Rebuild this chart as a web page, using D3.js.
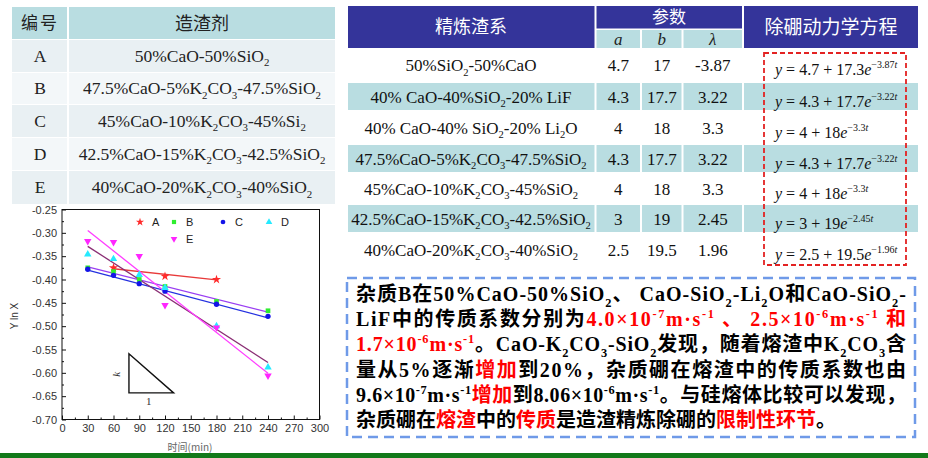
<!DOCTYPE html>
<html>
<head>
<meta charset="utf-8">
<script src="https://cdn.jsdelivr.net/npm/d3@7"></script>
<style>
  html, body { margin: 0; padding: 0; background: #fff; }
  svg { display: block; }
</style>
</head>
<body>
<svg id="slide" width="928" height="458"></svg>
<script>
// ---- left table: slag makers
const slagIds = ["A", "B", "C", "D", "E"];
const slagRecipes = [
  "50%CaO-50%SiO_2",
  "47.5%CaO-5%K_2CO_3-47.5%SiO_2",
  "45%CaO-10%K_2CO_3-45%Si_2",
  "42.5%CaO-15%K_2CO_3-42.5%SiO_2",
  "40%CaO-20%K_2CO_3-40%SiO_2"
];

// ---- chart: Y ln X vs time (min)
const times = [30, 60, 90, 120, 180, 240];
const timesA = [60, 120, 180];
const lnA = [-0.375, -0.393, -0.400];
const lnB = [-0.375, -0.383, -0.400, -0.415, -0.447, -0.467];
const lnC = [-0.378, -0.391, -0.409, -0.425, -0.453, -0.479];
const lnD = [-0.346, -0.356, -0.390, -0.418, -0.500, -0.588];
const lnE = [-0.318, -0.320, -0.350, -0.455, -0.503, -0.606];
// fitted lines, end points
const fitA = [[60, -0.377], [180, -0.401]];
const fitB = [[30, -0.373], [240, -0.470]];
const fitC = [[30, -0.380], [240, -0.482]];
const fitD = [[30, -0.329], [240, -0.578]];
const fitE = [[30, -0.295], [240, -0.601]];
const slopeTri = [[78, -0.559], [78, -0.643], [130, -0.643]];
const xTickVals = [0, 30, 60, 90, 120, 150, 180, 210, 240, 270, 300];
const xMinorVals = [15, 45, 75, 105, 135, 165, 195, 225, 255, 285];
const yTickVals = [-0.70, -0.65, -0.60, -0.55, -0.50, -0.45, -0.40, -0.35, -0.30, -0.25];
const yMinorVals = [-0.675, -0.625, -0.575, -0.525, -0.475, -0.425, -0.375, -0.325, -0.275];

// ---- right table: kinetic parameters
const slagSystems = [
  "50%SiO_2-50%CaO",
  "40% CaO-40%SiO_2-20% LiF",
  "40% CaO-40% SiO_2-20% Li_2O",
  "47.5%CaO-5%K_2CO_3-47.5%SiO_2",
  "45%CaO-10%K_2CO_3-45%SiO_2",
  "42.5%CaO-15%K_2CO_3-42.5%SiO_2",
  "40%CaO-20%K_2CO_3-40%SiO_2"
];
const paramA = ["4.7", "4.3", "4", "4.3", "4", "3", "2.5"];
const paramB = ["17", "17.7", "18", "17.7", "18", "19", "19.5"];
const paramL = ["-3.87", "3.22", "3.3", "3.22", "3.3", "2.45", "1.96"];
const eqB = ["17.3", "17.7", "18", "17.7", "18", "19", "19.5"];
const eqL = ["3.87", "3.22", "3.3", "3.22", "3.3", "2.45", "1.96"];

// ---- note box
const noteLines = [
  [["杂质B在50%CaO-50%SiO_2、 CaO-SiO_2-Li_2O和CaO-SiO_2-", "#000"]],
  [["LiF中的传质系数分别为", "#000"], ["4.0×10^{-7}m·s^{-1} 、 2.5×10^{-6}m·s^{-1} 和", "#ff0000"]],
  [["1.7×10^{-6}m·s^{-1}", "#ff0000"], ["。CaO-K_2CO_3-SiO_2发现，随着熔渣中K_2CO_3含", "#000"]],
  [["量从5%逐渐", "#000"], ["增加", "#ff0000"], ["到20%，杂质硼在熔渣中的传质系数也由", "#000"]],
  [["9.6×10^{-7}m·s^{-1}", "#000"], ["增加", "#ff0000"], ["到8.06×10^{-6}m·s^{-1}。与硅熔体比较可以发现，", "#000"]],
  [["杂质硼在", "#000"], ["熔渣", "#ff0000"], ["中的", "#000"], ["传质", "#ff0000"], ["是造渣精炼除硼的", "#000"], ["限制性环节", "#ff0000"], ["。", "#000"]]
];

const SERIF = '"Liberation Serif", "Times New Roman", "Noto Sans CJK SC", serif';
const SANS = '"Liberation Sans", Arial, sans-serif';
const CJK = '"Noto Sans CJK SC", sans-serif';
const TEAL = "#b9dde1";
const NAVY = "#34349a";

const svg = d3.select("#slide");

// write text with _x / _{..} subscripts and ^{..} superscripts
function rich(sel, str, fs, color, state) {
  state = state || { off: 0 };
  const re = /_\{([^}]*)\}|_(.)|\^\{([^}]*)\}/g;
  let last = 0, m;
  const put = (t, k) => {
    const target = k < 0 ? fs * 0.28 : k > 0 ? -fs * 0.4 : 0;
    const ts = sel.append("tspan").text(t).attr("dy", target - state.off);
    if (k) ts.attr("font-size", fs * 0.62);
    if (color) ts.attr("fill", color);
    state.off = target;
    return ts;
  };
  while ((m = re.exec(str))) {
    if (m.index > last) put(str.slice(last, m.index), 0);
    if (m[1] != null) put(m[1], -1);
    else if (m[2] != null) put(m[2], -1);
    else put(m[3], 1);
    last = re.lastIndex;
  }
  if (last < str.length) put(str.slice(last), 0);
  return state;
}

// ================= left table =================
const lCols = [12, 68, 335];
const lRows = [7, 39, 72, 104, 137, 170, 204];
const lt = svg.append("g");
[0, 1, 2, 3, 4, 5].forEach(r => {
  const fill = r === 0 ? TEAL : (r % 2 ? "#e9f0f3" : "#f3f7f9");
  [0, 1].forEach(c => {
    lt.append("rect")
      .attr("x", lCols[c] + (c ? 1 : 0)).attr("y", lRows[r] + (r ? 1 : 0))
      .attr("width", lCols[c + 1] - lCols[c] - 1)
      .attr("height", lRows[r + 1] - lRows[r] - (r ? 1 : 0))
      .attr("fill", fill);
  });
});
lt.append("text").attr("x", 40).attr("y", 29).attr("text-anchor", "middle")
  .attr("font-family", CJK).attr("font-size", 17).attr("fill", "#222")
  .attr("letter-spacing", 2).text("编号");
lt.append("text").attr("x", 202).attr("y", 29.5).attr("text-anchor", "middle")
  .attr("font-family", CJK).attr("font-size", 18).attr("fill", "#222").text("造渣剂");
slagIds.forEach((id, i) => {
  const cy = (lRows[i + 1] + lRows[i + 2]) / 2 + 6;
  lt.append("text").attr("x", 40).attr("y", cy).attr("text-anchor", "middle")
    .attr("font-family", SERIF).attr("font-size", 17.5).attr("fill", "#222").text(id);
  const t = lt.append("text").attr("x", 202).attr("y", cy).attr("text-anchor", "middle")
    .attr("font-family", SERIF).attr("font-size", 17.5).attr("fill", "#222");
  rich(t, slagRecipes[i], 17.5);
});

// ================= chart =================
const x = d3.scaleLinear().domain([0, 300]).range([62, 319.5]);
const y = d3.scaleLinear().domain([-0.70, -0.25]).range([419.5, 209.5]);
const ch = svg.append("g");

ch.append("rect")
  .attr("x", x(0)).attr("y", y(-0.25))
  .attr("width", x(300) - x(0)).attr("height", y(-0.70) - y(-0.25))
  .attr("fill", "none").attr("stroke", "#111").attr("stroke-width", 1);

const styleAxis = g => {
  g.select(".domain").remove();
  g.selectAll("line").attr("stroke", "#111");
  g.selectAll("text").attr("font-family", SANS).attr("font-size", 11).attr("fill", "#333");
};
ch.append("g").attr("transform", `translate(0,${y(-0.70)})`)
  .call(d3.axisBottom(x).tickValues(xTickVals).tickSize(-4).tickPadding(5).tickFormat(d => d))
  .call(styleAxis);
ch.append("g").attr("transform", `translate(0,${y(-0.70)})`)
  .call(d3.axisBottom(x).tickValues(xMinorVals).tickSize(-2).tickFormat(""))
  .call(styleAxis);
ch.append("g").attr("transform", `translate(${x(0)},0)`)
  .call(d3.axisLeft(y).tickValues(yTickVals).tickSize(-4).tickPadding(5).tickFormat(d => d.toFixed(2)))
  .call(styleAxis);
ch.append("g").attr("transform", `translate(${x(0)},0)`)
  .call(d3.axisLeft(y).tickValues(yMinorVals).tickSize(-2).tickFormat(""))
  .call(styleAxis);

ch.append("text").attr("transform", "translate(18,316) rotate(-90)")
  .attr("text-anchor", "middle").attr("font-family", SANS).attr("font-size", 10)
  .attr("fill", "#333").text("Y ln X");
ch.append("text").attr("x", 190).attr("y", 451).attr("text-anchor", "middle")
  .attr("font-family", CJK).attr("font-size", 10).attr("fill", "#666").text("时间(min)");

const series = [
  { name: "A", xs: timesA, ys: lnA, fit: fitA, sym: d3.symbolStar, size: 26, rot: 0, color: "#ff2b2b", line: "#e83a3a", lx: 140, ly: 222 },
  { name: "B", xs: times, ys: lnB, fit: fitB, sym: d3.symbolSquare, size: 22, rot: 0, color: "#2fee2f", line: "#9a3ef2", lx: 174, ly: 222 },
  { name: "C", xs: times, ys: lnC, fit: fitC, sym: d3.symbolCircle, size: 22, rot: 0, color: "#1414e8", line: "#2430e0", lx: 223, ly: 222 },
  { name: "D", xs: times, ys: lnD, fit: fitD, sym: d3.symbolTriangle, size: 24, rot: 0, color: "#25eaff", line: "#8a2e74", lx: 269, ly: 222 },
  { name: "E", xs: times, ys: lnE, fit: fitE, sym: d3.symbolTriangle, size: 24, rot: 180, color: "#ff25ff", line: "#ff3cff", lx: 174, ly: 239 }
];

const line = d3.line().x(d => x(d[0])).y(d => y(d[1]));
ch.selectAll("path.fit").data(series).enter().append("path")
  .attr("class", "fit").attr("d", d => line(d.fit))
  .attr("fill", "none").attr("stroke", d => d.line).attr("stroke-width", 1.3);

series.forEach(s => {
  const sym = d3.symbol().type(s.sym).size(s.size)();
  ch.append("g").selectAll("path").data(s.xs.map((t, i) => [t, s.ys[i]])).enter()
    .append("path").attr("d", sym)
    .attr("transform", d => `translate(${x(d[0])},${y(d[1])}) rotate(${s.rot})`)
    .attr("fill", s.color);
  ch.append("path").attr("d", d3.symbol().type(s.sym).size(s.size * 0.8)())
    .attr("transform", `translate(${s.lx},${s.ly}) rotate(${s.rot})`).attr("fill", s.color);
  ch.append("text").attr("x", s.lx + 12).attr("y", s.ly + 4)
    .attr("font-family", SANS).attr("font-size", 11).attr("fill", "#222").text(s.name);
});

// slope triangle
ch.append("path").attr("d", line(slopeTri) + "Z")
  .attr("fill", "none").attr("stroke", "#111").attr("stroke-width", 1.4);
ch.append("text").attr("transform", `translate(${x(67)},${y(-0.603)}) rotate(-90)`)
  .attr("text-anchor", "middle").attr("font-family", SERIF).attr("font-style", "italic")
  .attr("font-size", 11).attr("fill", "#333").text("k");
ch.append("text").attr("x", x(101)).attr("y", y(-0.668)).attr("text-anchor", "middle")
  .attr("font-family", SERIF).attr("font-size", 11).attr("fill", "#333").text("1");

// ================= right table =================
const rCols = [348, 595.5, 641, 682.5, 743, 918];
const rRows = [48, 82, 111, 144, 173, 204, 233, 266];
const rt = svg.append("g");
const cell = (x0, y0, x1, y1, fill) => rt.append("rect")
  .attr("x", x0 + 1).attr("y", y0).attr("width", x1 - x0 - 2).attr("height", y1 - y0).attr("fill", fill);
cell(rCols[0] - 1, 6, rCols[1], 48, NAVY);
cell(rCols[1], 6, rCols[4], 28.5, NAVY);
cell(rCols[4], 6, rCols[5] + 1, 48, NAVY);
[1, 2, 3].forEach(c => cell(rCols[c], 30, rCols[c + 1], 48, TEAL));
[1, 3, 5].forEach(r => {
  [0, 1, 2, 3, 4].forEach(c => cell(rCols[c] - (c ? 0 : 1), rRows[r] + 1, rCols[c + 1] + (c === 4 ? 1 : 0), rRows[r + 1] - 1, TEAL));
});

rt.append("text").attr("x", 471).attr("y", 33).attr("text-anchor", "middle")
  .attr("font-family", CJK).attr("font-size", 18).attr("fill", "#fff").text("精炼渣系");
rt.append("text").attr("x", 669).attr("y", 23).attr("text-anchor", "middle")
  .attr("font-family", CJK).attr("font-size", 17).attr("fill", "#fff").text("参数");
rt.append("text").attr("x", 831).attr("y", 34).attr("text-anchor", "middle")
  .attr("font-family", CJK).attr("font-size", 19).attr("fill", "#fff").text("除硼动力学方程");
["a", "b", "λ"].forEach((t, i) => {
  rt.append("text").attr("x", (rCols[i + 1] + rCols[i + 2]) / 2).attr("y", 45)
    .attr("text-anchor", "middle").attr("font-family", SERIF).attr("font-style", "italic")
    .attr("font-size", 17).attr("fill", "#222").text(t);
});

slagSystems.forEach((s, i) => {
  const base = (rRows[i] + rRows[i + 1]) / 2 + 6;
  const t = rt.append("text").attr("x", 471).attr("y", base).attr("text-anchor", "middle")
    .attr("font-family", SERIF).attr("font-size", 17).attr("fill", "#111");
  rich(t, s, 17);
  [paramA[i], paramB[i], paramL[i]].forEach((v, c) => {
    rt.append("text").attr("x", (rCols[c + 1] + rCols[c + 2]) / 2).attr("y", base)
      .attr("text-anchor", "middle").attr("font-family", SERIF).attr("font-size", 17)
      .attr("fill", "#111").text(v);
  });
  // y = a + b e^(-λt)
  const eq = rt.append("text").attr("x", 775).attr("y", base + 4)
    .attr("font-family", SERIF).attr("font-size", 16).attr("fill", "#111");
  eq.append("tspan").attr("font-style", "italic").text("y");
  eq.append("tspan").text(` = ${paramA[i]} + ${eqB[i]}`);
  eq.append("tspan").attr("font-style", "italic").text("e");
  eq.append("tspan").attr("dy", -7).attr("font-size", 10).text("−" + eqL[i]);
  eq.append("tspan").attr("font-size", 10).attr("font-style", "italic").text("t");
});

rt.append("rect").attr("x", 764).attr("y", 53).attr("width", 142).attr("height", 212)
  .attr("fill", "none").attr("stroke", "#e32222").attr("stroke-width", 1.8)
  .attr("stroke-dasharray", "5,3");

// ================= note box =================
const nb = svg.append("g");
nb.append("rect").attr("x", 347).attr("y", 278).attr("width", 568).attr("height", 159)
  .attr("fill", "#fff").attr("stroke", "#6f9ae8").attr("stroke-width", 2.5)
  .attr("stroke-dasharray", "10,6");
noteLines.forEach((segs, i) => {
  const t = nb.append("text").attr("x", 356).attr("y", 301 + i * 25.2)
    .attr("font-family", SERIF).attr("font-weight", "bold").attr("font-size", 20);
  const state = { off: 0 };
  segs.forEach(([str, col]) => rich(t, str, 20, col, state));
  if (i < noteLines.length - 1) t.attr("textLength", 550).attr("lengthAdjust", "spacing");
});

// bottom green band
svg.append("rect").attr("x", 0).attr("y", 453).attr("width", 928).attr("height", 5).attr("fill", "#12791a");
</script>
</body>
</html>
